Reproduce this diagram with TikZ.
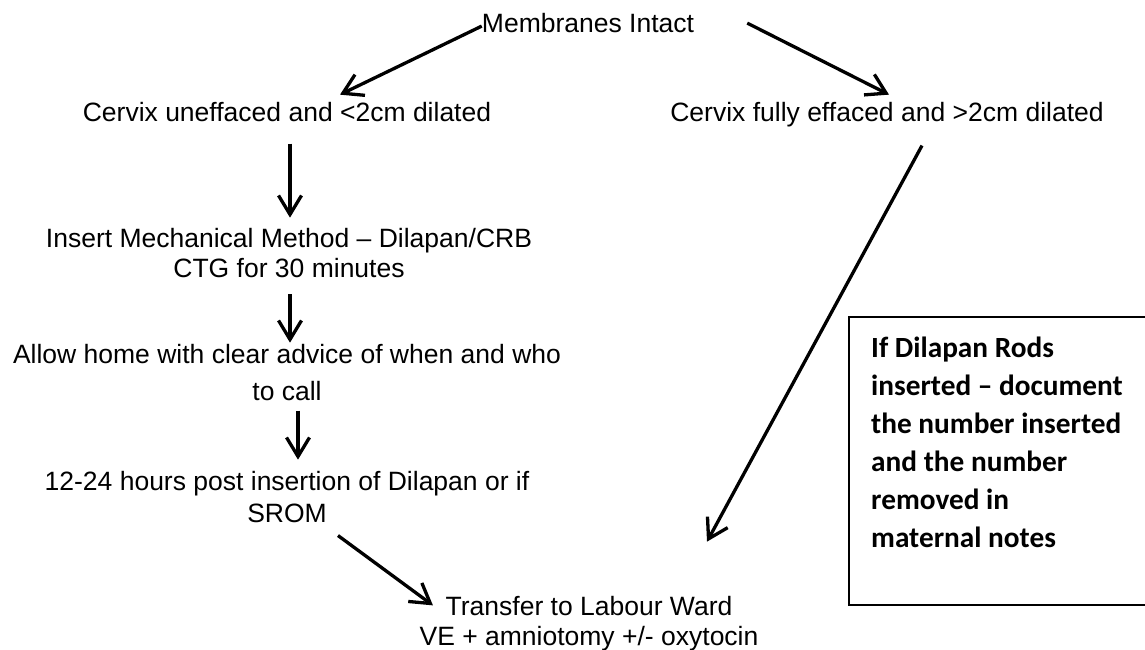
\documentclass[tikz,border=0pt]{standalone}
\usepackage{fontspec}
\setmainfont{Liberation Sans}
\newfontfamily\boxfont{Carlito}
\usetikzlibrary{arrows.meta,calc}
\begin{document}
\begin{tikzpicture}[x=1pt,y=-1pt,
  lbl/.style={inner sep=0pt, anchor=north, align=center, font=\fontsize{26.5}{30.5}\selectfont},
  arr/.style={line width=3.3pt, -{Straight Barb[length=19pt,width=23pt,line width=3.3pt]}},
  notebox/.style={anchor=north west, minimum width=340pt, minimum height=288pt, inner sep=0pt},
  boxedge/.style={line width=2pt},
  notetext/.style={inner sep=0pt, anchor=north west, align=left, font=\boxfont\bfseries\fontsize{29.3}{38}\selectfont}]
\useasboundingbox (0,0) rectangle (1145,650);
\fill[white] (0,0) rectangle (1145,650);

\node[lbl] (mem) at (588,10.65) {\strut Membranes Intact};
\node[lbl] (c1) at (287,99.65) {\strut Cervix uneffaced and <2cm dilated};
\node[lbl] (c2) at (887,99.65) {\strut Cervix fully effaced and >2cm dilated};
\node[lbl] (ins) at (289,225.65) {\strut Insert Mechanical Method – Dilapan/CRB\\\strut CTG for 30 minutes};
\node[lbl] (allow) at (287,341.65) {\strut Allow home with clear advice of when and who\\[6.5pt]\strut to call};
\node[lbl] (h12) at (287,468.65) {\strut 12-24 hours post insertion of Dilapan or if\\[1.5pt]\strut SROM};
\node[lbl] (tr) at (589,593.65) {\strut Transfer to Labour Ward\\\strut VE + amniotomy +/- oxytocin};

\node[notebox] (box) at (849,317) {};
\draw[boxedge] (box.north east) -- (box.north west) -- (box.south west) -- (box.south east);
\node[notetext] (boxtxt) at (871,330.4) {\strut If Dilapan Rods\\\strut inserted – document\\\strut the number inserted\\\strut and the number\\\strut removed in\\\strut maternal notes};

\draw[arr] (mem.west) -- ($(c1.north)+(53,-5)$);
\draw[arr] ($(mem.east)+(53,-3)$) -- ($(c2.north)+(2,-5)$);
\draw[arr] ($(c1.south)+(3,13)$) -- ($(ins.north)+(1,-8)$);
\draw[arr] ($(ins.south)+(1,7)$) -- ($(allow.north)+(3,1)$);
\draw[arr] ($(allow.south)+(11,1)$) -- ($(h12.north)+(11,-9)$);
\draw[arr] ($(h12.south)+(51,4)$) -- ($(tr.west)+(13.5,-19)$);
\draw[arr] ($(c2.south)+(35,15)$) -- ($(tr.north)+(118,-52)$);
\end{tikzpicture}
\end{document}
